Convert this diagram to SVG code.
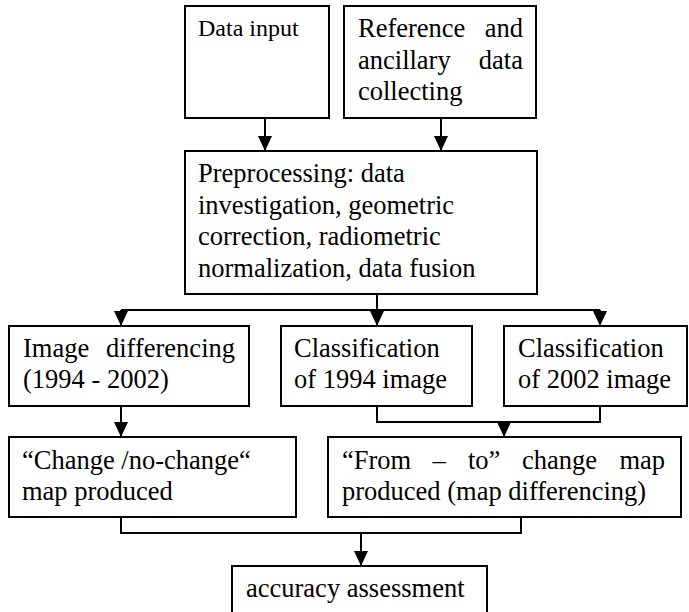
<svg xmlns="http://www.w3.org/2000/svg" width="689" height="612" viewBox="0 0 689 612">
<style>
.box{fill:#fff;stroke:#000;stroke-width:2}
.t{font-family:"Liberation Serif","Times New Roman",serif;font-size:26.5px;fill:#000}
.s{font-size:24px}
.c{fill:none;stroke:#000;stroke-width:2}
</style>
<defs>
<marker id="ah" markerUnits="userSpaceOnUse" markerWidth="15" markerHeight="14" refX="15" refY="7" orient="auto">
<path d="M0,0 L15,7 L0,14 z" fill="#000"/>
</marker>
</defs>
<rect width="689" height="612" fill="#fff"/>
<g id="connectors">
<path class="c" d="M265,118 V151" marker-end="url(#ah)"/>
<path class="c" d="M441,118 V151" marker-end="url(#ah)"/>
<path class="c" d="M377,294 V326" marker-end="url(#ah)"/>
<path class="c" d="M121,310 H600"/>
<path class="c" d="M121,310 V326" marker-end="url(#ah)"/>
<path class="c" d="M600,310 V326" marker-end="url(#ah)"/>
<path class="c" d="M121,406 V437" marker-end="url(#ah)"/>
<path class="c" d="M377,406 V422 H600 V406"/>
<path class="c" d="M504,422 V437" marker-end="url(#ah)"/>
<path class="c" d="M121,517 V533 H521 V517"/>
<path class="c" d="M361,533 V566" marker-end="url(#ah)"/>
</g>
<g id="data-input">
<rect class="box" x="185" y="6" width="144" height="112"/>
<text class="t s" x="198" y="36">Data input</text>
</g>
<g id="reference">
<rect class="box" x="344" y="6" width="192" height="112"/>
<text class="t" x="358" y="37">Reference</text>
<text class="t" x="523" y="37" text-anchor="end">and</text>
<text class="t" x="358" y="69">ancillary</text>
<text class="t" x="523" y="69" text-anchor="end">data</text>
<text class="t" x="358" y="100">collecting</text>
</g>
<g id="preprocessing">
<rect class="box" x="185" y="151" width="352" height="143"/>
<text class="t" x="198" y="182">Preprocessing: data</text>
<text class="t" x="198" y="214">investigation, geometric</text>
<text class="t" x="198" y="245">correction, radiometric</text>
<text class="t" x="198" y="277">normalization, data fusion</text>
</g>
<g id="image-differencing">
<rect class="box" x="9" y="326" width="240" height="80"/>
<text class="t" x="23" y="357">Image</text>
<text class="t" x="235" y="357" text-anchor="end">differencing</text>
<text class="t" x="23" y="388">(1994 - 2002)</text>
</g>
<g id="classification-1994">
<rect class="box" x="281" y="326" width="191" height="80"/>
<text class="t" x="294" y="357">Classification</text>
<text class="t" x="294" y="388">of 1994 image</text>
</g>
<g id="classification-2002">
<rect class="box" x="504" y="326" width="183" height="80"/>
<text class="t" x="518" y="357">Classification</text>
<text class="t" x="518" y="388">of 2002 image</text>
</g>
<g id="change-no-change">
<rect class="box" x="9" y="437" width="287" height="80"/>
<text class="t" x="22" y="469">“Change /no-change“</text>
<text class="t" x="22" y="500">map produced</text>
</g>
<g id="from-to">
<rect class="box" x="328" y="437" width="353" height="80"/>
<text class="t" x="342" y="469">“From</text>
<text class="t" x="439" y="469" text-anchor="middle">–</text>
<text class="t" x="468" y="469">to”</text>
<text class="t" x="522" y="469">change</text>
<text class="t" x="665" y="469" text-anchor="end">map</text>
<text class="t" x="342" y="500">produced (map differencing)</text>
</g>
<g id="accuracy">
<rect class="box" x="232" y="566" width="255" height="60"/>
<text class="t" x="246" y="597">accuracy assessment</text>
</g>
</svg>
